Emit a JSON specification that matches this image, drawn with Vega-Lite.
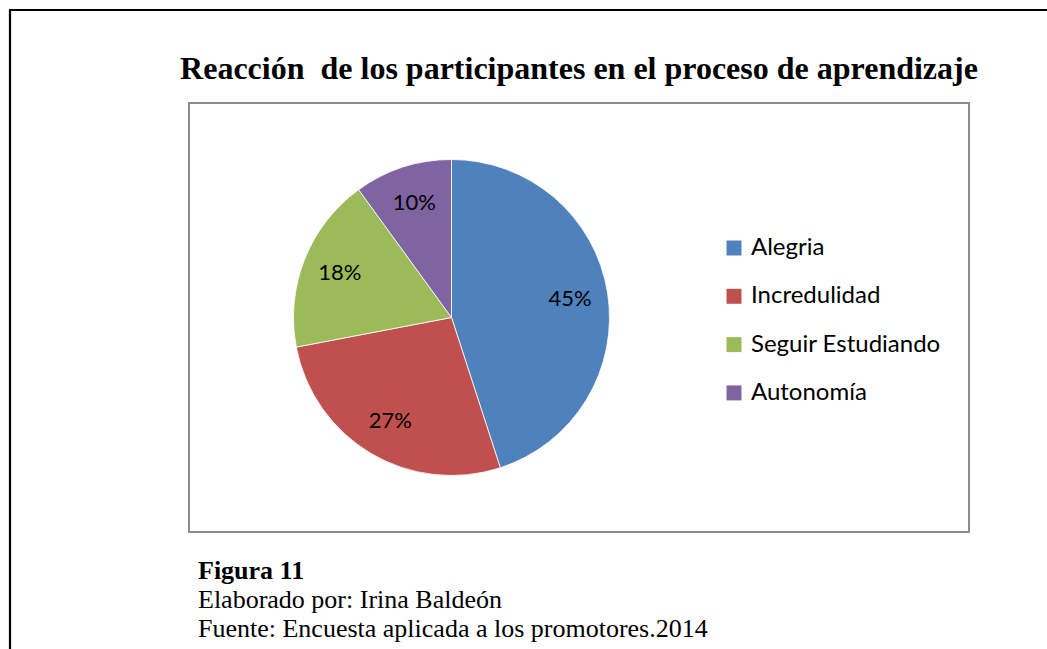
{
  "$schema": "https://vega.github.io/schema/vega-lite/v6.json",
  "autosize": {"type": "none"},
  "padding": {"left": 189, "top": 103, "right": 78, "bottom": 117},
  "width": 780,
  "height": 429,
  "background": "white",
  "config": {
    "view": {"stroke": null}
  },
  "title": {
    "text": "Reacción\u00a0 de los participantes en el proceso de aprendizaje",
    "font": "Liberation Serif",
    "fontSize": 32,
    "fontWeight": "bold",
    "color": "black",
    "anchor": "middle",
    "frame": "group",
    "baseline": "alphabetic",
    "offset": 23,
    "dy": 125.5
  },
  "data": {
    "values": [
      {"categoria": "Alegria", "pct": 0.45},
      {"categoria": "Incredulidad", "pct": 0.27},
      {"categoria": "Seguir Estudiando", "pct": 0.18},
      {"categoria": "Autonomía", "pct": 0.10}
    ]
  },
  "layer": [
    {
      "data": {"values": [{}]},
      "mark": {"type": "rect", "fill": null, "stroke": "#8c8c8c", "strokeWidth": 2},
      "encoding": {
        "x": {"value": 0},
        "x2": {"value": "width"},
        "y": {"value": 0},
        "y2": {"value": "height"}
      }
    },
    {
      "mark": {"type": "arc", "outerRadius": 158, "x": 262.5, "y": 214.5, "stroke": "white", "strokeWidth": 0.8},
      "encoding": {
        "theta": {"field": "pct", "type": "quantitative", "stack": true},
        "order": {"field": "pct", "type": "quantitative", "sort": "descending"},
        "color": {
          "field": "categoria",
          "type": "nominal",
          "sort": ["Alegria", "Incredulidad", "Seguir Estudiando", "Autonomía"],
          "scale": {
            "domain": ["Alegria", "Incredulidad", "Seguir Estudiando", "Autonomía"],
            "range": ["#4F81BD", "#C0504D", "#9BBB59", "#8064A2"]
          },
          "legend": {
            "title": null,
            "orient": "none",
            "legendX": 533,
            "legendY": 133,
            "symbolType": "square",
            "symbolSize": 225,
            "symbolStrokeWidth": 0,
            "symbolOpacity": 1,
            "labelFont": "Lato",
            "labelFontSize": 24,
            "labelColor": "black",
            "labelOffset": 5,
            "rowPadding": 24.3,
            "labelLimit": 400
          }
        }
      }
    },
    {
      "mark": {"type": "text", "radius": 120, "x": 262.5, "y": 214.5, "font": "Lato", "fontSize": 22, "color": "black"},
      "encoding": {
        "theta": {"field": "pct", "type": "quantitative", "stack": true},
        "order": {"field": "pct", "type": "quantitative", "sort": "descending"},
        "text": {"field": "pct", "type": "quantitative", "format": ".0%"}
      }
    },
    {
      "data": {"values": [{}]},
      "mark": {"type": "rule", "stroke": "black", "strokeWidth": 2.2},
      "encoding": {
        "x": {"value": -179},
        "y": {"value": -93},
        "y2": {"value": 546}
      }
    },
    {
      "data": {"values": [{}]},
      "mark": {"type": "rule", "stroke": "black", "strokeWidth": 2.2},
      "encoding": {
        "x": {"value": -180},
        "x2": {"value": 858},
        "y": {"value": -93}
      }
    },
    {
      "data": {"values": [{}]},
      "mark": {"type": "text", "text": "Figura 11", "align": "left", "baseline": "alphabetic", "font": "Liberation Serif", "fontSize": 26, "fontWeight": "bold", "color": "black"},
      "encoding": {"x": {"value": 9}, "y": {"value": 475.5}}
    },
    {
      "data": {"values": [{}]},
      "mark": {"type": "text", "text": "Elaborado por: Irina Baldeón", "align": "left", "baseline": "alphabetic", "font": "Liberation Serif", "fontSize": 26, "color": "black"},
      "encoding": {"x": {"value": 9}, "y": {"value": 505.3}}
    },
    {
      "data": {"values": [{}]},
      "mark": {"type": "text", "text": "Fuente: Encuesta aplicada a los promotores.2014", "align": "left", "baseline": "alphabetic", "font": "Liberation Serif", "fontSize": 26, "color": "black"},
      "encoding": {"x": {"value": 9}, "y": {"value": 533.7}}
    }
  ]
}
